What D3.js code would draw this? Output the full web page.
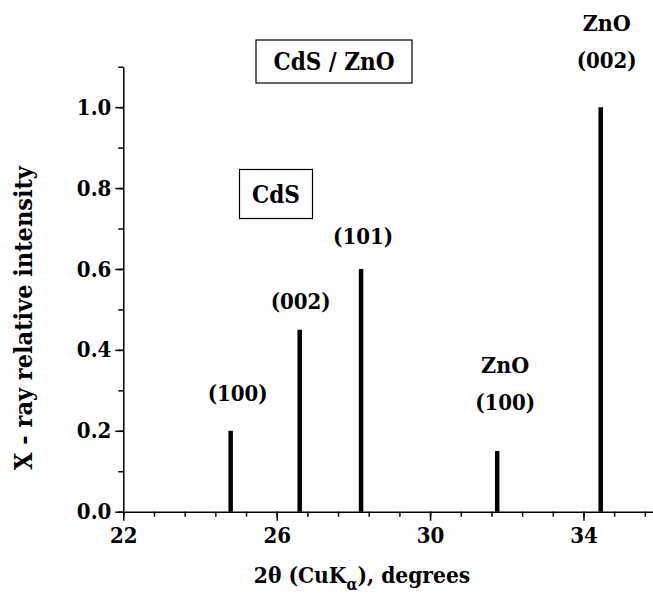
<!DOCTYPE html>
<html>
<head>
<meta charset="utf-8">
<script src="https://cdn.jsdelivr.net/npm/d3@7"></script>
<style>
  body { margin: 0; background: #fff; }
</style>
</head>
<body>
<svg></svg>
<script>
const width = 653;
const height = 595;
const FONT = "'DejaVu Serif Condensed', 'DejaVu Serif', serif";

// peak positions (2theta, degrees) and relative intensities
const peakAngles = [24.8, 26.6, 28.2, 31.75, 34.45];
const peakIntensities = [0.2, 0.45, 0.6, 0.15, 1.0];
const peakLabels = [['(100)'], ['(002)'], ['(101)'], ['ZnO', '(100)'], ['ZnO', '(002)']];

const xMajorTicks = [22, 26, 30, 34];
const yMajorTicks = [0, 0.2, 0.4, 0.6, 0.8, 1.0];

const x = d3.scaleLinear().domain([22, 35.8]).range([123.3, 652.5]);
const y = d3.scaleLinear().domain([0, 1.1]).range([511.7, 66.7]);

const svg = d3.select('svg')
    .attr('width', width)
    .attr('height', height)
    .attr('font-family', FONT)
    .attr('font-weight', 'bold');

// minor ticks first
const xMinor = d3.range(22, 35.81, 0.8).map(v => +v.toFixed(1));
const yMinor = d3.range(0, 1.101, 0.1).map(v => +v.toFixed(1));

svg.append('g')
    .attr('transform', `translate(0,${y(0)})`)
    .call(d3.axisBottom(x).tickValues(xMinor).tickSize(5).tickSizeOuter(0).tickFormat(''))
    .call(g => g.selectAll('line,path').attr('stroke-width', 1.5));

svg.append('g')
    .attr('transform', `translate(${x(22)},0)`)
    .call(d3.axisLeft(y).tickValues(yMinor).tickSize(5).tickSizeOuter(0).tickFormat(''))
    .call(g => g.selectAll('line,path').attr('stroke-width', 1.5));

// major ticks with labels
const xAxis = svg.append('g')
    .attr('transform', `translate(0,${y(0)})`)
    .call(d3.axisBottom(x).tickValues(xMajorTicks).tickSize(9).tickSizeOuter(0).tickPadding(7));
xAxis.attr('font-family', FONT).attr('font-size', 22);
xAxis.select('.domain').remove();
xAxis.selectAll('line').attr('stroke-width', 1.5);

const yAxis = svg.append('g')
    .attr('transform', `translate(${x(22)},0)`)
    .call(d3.axisLeft(y).tickValues(yMajorTicks).tickSize(8).tickSizeOuter(0).tickPadding(4)
      .tickFormat(d3.format('.1f')));
yAxis.attr('font-family', FONT).attr('font-size', 22);
yAxis.select('.domain').remove();
yAxis.selectAll('line').attr('stroke-width', 1.5);

// peaks
svg.selectAll('.peak')
  .data(peakAngles)
  .enter()
  .append('line')
    .attr('class', 'peak')
    .attr('x1', d => x(d))
    .attr('x2', d => x(d))
    .attr('y1', y(0))
    .attr('y2', (d, i) => y(peakIntensities[i]))
    .attr('stroke', '#000')
    .attr('stroke-width', 4.5);

// peak labels
const labelOffsets = [[7, -30], [1, -21], [2, -25], [8, -41], [6, -39]];
peakLabels.forEach((lines, i) => {
  const cx = x(peakAngles[i]) + labelOffsets[i][0];
  const base = y(peakIntensities[i]) + labelOffsets[i][1];
  lines.slice().reverse().forEach((t, j) => {
    svg.append('text')
        .attr('x', cx)
        .attr('y', base - j * 37)
        .attr('text-anchor', 'middle')
        .attr('font-size', t === 'ZnO' ? 23 : 22)
        .text(t);
  });
});

// boxed titles
function boxLabel(label, cx, cy, w, h) {
  svg.append('rect')
      .attr('x', cx - w / 2)
      .attr('y', cy - h / 2)
      .attr('width', w)
      .attr('height', h)
      .attr('fill', 'none')
      .attr('stroke', '#000')
      .attr('stroke-width', 1.2);
  svg.append('text')
      .attr('x', cx)
      .attr('y', cy + 8.5)
      .attr('text-anchor', 'middle')
      .attr('font-size', 24)
      .text(label);
}
boxLabel('CdS / ZnO', 334, 61.5, 156, 43);
boxLabel('CdS', 276, 194, 73, 49);

// axis titles
const xTitle = svg.append('text')
    .attr('x', 362)
    .attr('y', 583)
    .attr('text-anchor', 'middle')
    .attr('font-size', 22.5);
xTitle.append('tspan').text('2θ (CuK');
xTitle.append('tspan').attr('dy', 7).attr('font-size', 16).text('α');
xTitle.append('tspan').attr('dy', -7).text('), degrees');

svg.append('text')
    .attr('transform', 'translate(32,318) rotate(-90)')
    .attr('text-anchor', 'middle')
    .attr('font-size', 25)
    .text('X - ray relative intensity');
</script>
</body>
</html>
